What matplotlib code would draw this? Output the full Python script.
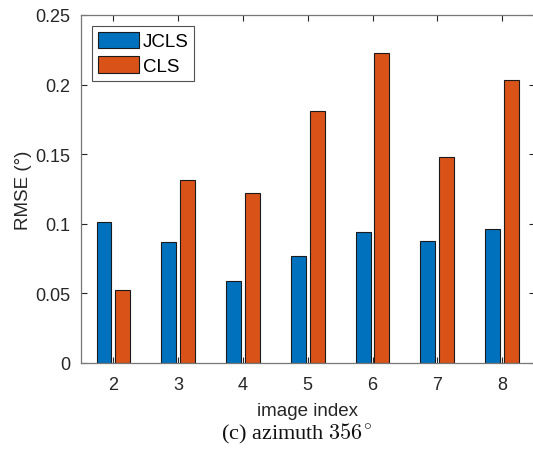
import matplotlib
matplotlib.use("Agg")
import matplotlib.pyplot as plt
import numpy as np

image_index = [2, 3, 4, 5, 6, 7, 8]
jcls = [0.1015, 0.0867, 0.0587, 0.0769, 0.0939, 0.0874, 0.0963]
cls = [0.0527, 0.1315, 0.1221, 0.1808, 0.2225, 0.1478, 0.2035]
series_names = ["JCLS", "CLS"]
yticks = [0, 0.05, 0.1, 0.15, 0.2, 0.25]
ytick_labels = ["0", "0.05", "0.1", "0.15", "0.2", "0.25"]

plt.rcParams["font.family"] = ["Liberation Sans", "DejaVu Sans"]
plt.rcParams["mathtext.fontset"] = "cm"

W, H = 533, 456
fig = plt.figure(figsize=(W / 100, H / 100), dpi=100)
left, right, top, bottom = 81, 534.5, 16, 364
ax = fig.add_axes([left / W, 1 - bottom / H, (right - left) / W, (bottom - top) / H])

x = np.array(image_index, dtype=float)
bw = 0.23
off = 0.145
ax.bar(x - off, jcls, width=bw, color="#0072BD", edgecolor="#1a1a1a", linewidth=0.8, label=series_names[0], zorder=2)
ax.bar(x + off, cls, width=bw, color="#D95319", edgecolor="#1a1a1a", linewidth=0.8, label=series_names[1], zorder=2)

ax.set_xlim(1.5, 8.5)
ax.set_ylim(0, 0.25)
ax.set_xticks(image_index)
ax.set_yticks(yticks)
ax.set_yticklabels(ytick_labels)
ax.tick_params(direction="in", top=True, right=True, length=4, width=0.8,
               colors="#262626", labelsize=13, labelcolor="#262626")
ax.tick_params(axis="y", pad=8)
ax.tick_params(axis="x", pad=9)
for s in ax.spines.values():
    s.set_color("#777777")
    s.set_linewidth(0.9)

ax.set_xlabel("image index", fontsize=13.5, color="#262626")
ax.set_ylabel("RMSE (°)", fontsize=13.5, color="#262626")
ax.xaxis.set_label_coords(0.5, (364 - 403) / 348)
ax.yaxis.set_label_coords((32 - 81) / 453.5, 0.5)

leg = ax.legend(loc="upper left", bbox_to_anchor=((92 - 81) / 453.5, (364 - 27) / 348), fontsize=13.5,
                frameon=True, fancybox=False, edgecolor="#262626", handlelength=2.2, handleheight=1.0,
                handletextpad=0.2, borderpad=0.3, labelspacing=0.3, borderaxespad=0)
leg.get_frame().set_linewidth(0.8)
for p in leg.get_patches():
    p.set_linewidth(0.8)

fig.text(297 / W, 1 - 434 / H, r"(c) azimuth $356^{\!\circ}$", ha="center", va="center",
         fontsize=16, family=["Liberation Serif", "DejaVu Serif"], color="#111111")

fig.savefig("out.png", dpi=100)
